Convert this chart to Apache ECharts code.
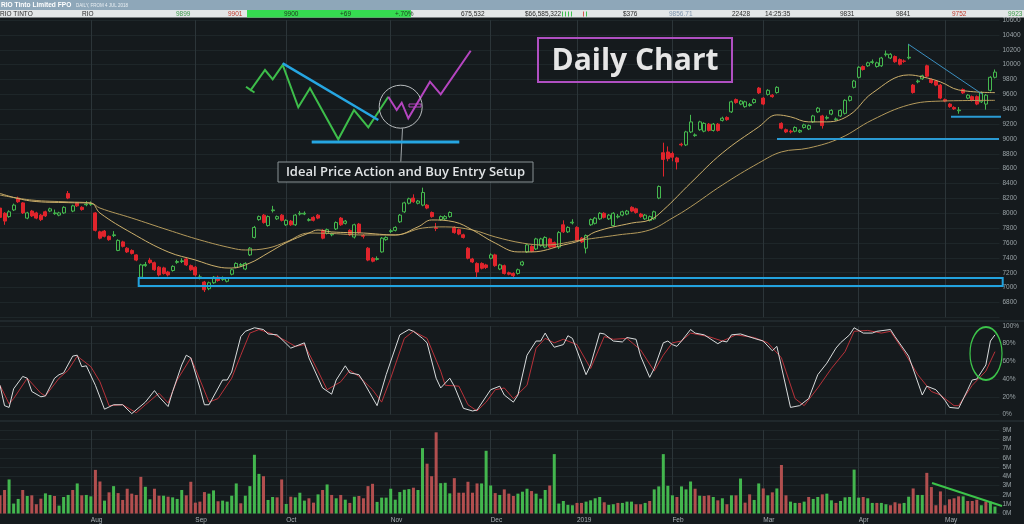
<!DOCTYPE html>
<html><head><meta charset="utf-8">
<script src="https://cdn.jsdelivr.net/npm/echarts/dist/echarts.min.js"></script>
<style>html,body{margin:0;padding:0;background:#151a1d;}#c{width:1024px;height:524px;}</style>
</head><body><div id="c"></div>
<script>
// ---------- DATA ----------
const monthNames = ['Jul','Aug','Sep','Oct','Nov','Dec','2019','Feb','Mar','Apr','May'];
const monthLabels = ['','Aug','Sep','Oct','Nov','Dec','2019','Feb','Mar','Apr','May'];
const monthDays  = [20,23,20,23,22,19,21,20,21,19,12];
const padDays = 1;
const priceTicks = {min:6600, max:10600, step:200};
const stochTicks = {min:0, max:100, step:20};
const volTicks = {min:0, max:9, step:1};

// [open, close, low, high]
const ohlc = [
[8070,7945,7900,8100],[8000,7895,7845,8015],[7955,8020,7940,8040],[8045,8110,8030,8130],[8205,8155,8140,8225],[8140,8005,7990,8150],[7935,8005,7920,8020],[8030,7965,7950,8045],[8005,7935,7920,8020],[7975,7915,7895,7990],
[8020,7965,7950,8035],[8030,8060,8015,8075],[7995,8005,7980,8050],[7975,8005,7960,8020],[8005,8080,7990,8095],[8265,8205,8190,8300],[8030,8100,8015,8115],[8135,8100,8085,8150],[8080,8050,8035,8095],[8115,8125,8095,8165],
[8120,8130,8100,8160],[8005,7770,7755,8015],[7750,7665,7650,7765],[7760,7690,7675,7775],[7690,7645,7630,7700],[7700,7710,7680,7760],[7500,7635,7490,7650],[7615,7555,7540,7630],[7530,7480,7465,7545],[7500,7460,7445,7515],
[7440,7370,7355,7450],[7140,7305,7125,7320],[7295,7310,7280,7345],[7370,7335,7320,7400],[7335,7240,7225,7350],[7275,7170,7150,7290],[7265,7190,7175,7280],[7210,7170,7150,7225],[7230,7285,7215,7300],[7340,7350,7320,7375],
[7350,7360,7330,7395],[7385,7305,7290,7400],[7295,7240,7225,7310],[7275,7170,7150,7290],[7135,7145,7110,7175],[7075,6970,6940,7090],[6985,7065,6965,7080],[7065,7140,7050,7155],[7140,7095,7080,7160],[7110,7120,7090,7150],
[7085,7130,7070,7140],[7180,7240,7165,7255],[7275,7325,7260,7340],[7300,7310,7280,7330],[7250,7325,7235,7340],[7440,7530,7425,7545],[7675,7810,7660,7830],[7915,7955,7900,7970],[7975,7875,7860,7990],[7835,7955,7820,7970],
[8035,8045,8010,8100],[7925,7955,7910,7970],[7975,7905,7890,7990],[7845,7905,7830,7920],[7895,7845,7830,7910],[7845,7975,7830,7990],[7990,8000,7970,8030],[7990,8000,7975,8025],[7905,7915,7890,7935],[7945,7905,7890,7960],
[7975,7935,7920,7990],[7770,7665,7650,7785],[7730,7780,7715,7795],[7710,7720,7690,7740],[7790,7875,7775,7890],[7935,7845,7830,7950],[7865,7895,7850,7910],[7770,7710,7695,7785],[7680,7845,7660,7860],[7855,7740,7725,7870],
[7700,7690,7660,7720],[7530,7370,7355,7545],[7395,7355,7340,7410],[7380,7390,7365,7420],[7480,7665,7470,7680],[7645,7675,7630,7690],[7755,7765,7735,7790],[7770,7810,7755,7825],[7885,7975,7870,7990],[8020,8140,8005,8155],
[8135,8195,8120,8210],[8205,8155,8140,8255],[8135,8165,8120,8180],[8110,8280,8095,8345],[8110,8070,8055,8125],[8010,7955,7940,8025],[7805,7795,7760,7870],[7915,7955,7900,7970],[7925,7955,7910,7975],[7955,8010,7940,8025],
[7810,7740,7725,7825],[7780,7720,7705,7795],[7710,7675,7660,7725],[7530,7395,7380,7545],[7385,7345,7330,7400],[7325,7210,7140,7340],[7325,7260,7245,7340],[7305,7270,7250,7320],[7395,7440,7380,7460],[7440,7295,7280,7455],
[7250,7305,7235,7320],[7295,7190,7175,7310],[7200,7180,7165,7215],[7190,7160,7140,7205],[7190,7240,7175,7255],[7305,7345,7290,7360],[7480,7575,7465,7590],[7555,7490,7475,7570],[7520,7655,7505,7670],[7565,7655,7550,7670],
[7545,7675,7530,7690],[7655,7545,7530,7670],[7605,7545,7530,7620],[7545,7740,7520,7760],[7845,7750,7735,7905],[7750,7810,7735,7825],[7870,7880,7850,7920],[7810,7635,7620,7825],[7665,7615,7600,7680],[7530,7700,7460,7715],
[7845,7915,7830,7930],[7865,7935,7850,7950],[7925,8000,7910,8015],[8000,7945,7930,8015],[7925,7975,7910,7990],[7835,8000,7820,8015],[7950,7960,7930,7990],[7975,8020,7960,8035],[7990,8030,7975,8045],[8080,8030,8015,8095],
[8060,8010,7995,8075],[7990,7955,7940,8005],[7925,7975,7910,7990],[7905,7955,7890,7970],[7925,8020,7910,8035],[8205,8360,8190,8375],[8815,8725,8495,8950],[8825,8735,8700,8900],[8805,8755,8700,8830],[8745,8690,8590,8760],
[8930,8920,8900,8950],[8920,9095,8905,9110],[9095,9230,9080,9325],[9045,9055,9030,9075],[9125,9230,9110,9245],[9105,9210,9090,9225],[9200,9115,9100,9215],[9115,9200,9100,9215],[9200,9115,9100,9215],[9250,9280,9235,9300],
[9290,9260,9245,9305],[9365,9500,9350,9515],[9530,9490,9475,9545],[9470,9510,9455,9525],[9435,9500,9420,9515],[9450,9465,9435,9485],[9490,9530,9475,9545],[9685,9620,9605,9700],[9550,9470,9455,9565],[9600,9655,9585,9670],
[9590,9570,9555,9605],[9625,9695,9610,9710],[9210,9145,9130,9225],[9125,9095,9080,9140],[9105,9095,9075,9125],[9105,9155,9090,9170],[9095,9115,9080,9130],[9155,9190,9140,9205],[9135,9180,9120,9195],[9230,9310,9215,9325],
[9365,9415,9350,9430],[9310,9180,9140,9325],[9280,9290,9260,9315],[9335,9385,9320,9400],[9260,9270,9245,9290],[9310,9385,9295,9400],[9345,9520,9330,9535],[9520,9570,9505,9585],[9695,9780,9680,9795],[9830,9965,9815,9980],
[9975,9935,9920,9990],[9985,10025,9970,10040],[10030,10040,10010,10070],[9975,10025,9960,10040],[9985,10090,9970,10105],[10135,10145,10110,10190],[10090,10140,10075,10155],[10110,10040,10025,10125],[10070,10005,9990,10085],[10050,10045,10025,10070],
[10090,10100,10070,10275],[9725,9625,9610,9740],[9770,9780,9750,9800],[9810,9850,9795,9865],[9985,9845,9830,10000],[9800,9760,9745,9815],[9780,9725,9710,9795],[9725,9550,9535,9740],[9530,9510,9495,9545],[9470,9435,9420,9485],
[9425,9405,9390,9440],[9380,9390,9340,9430],[9665,9620,9605,9680],[9550,9590,9535,9605],[9570,9520,9505,9585],[9570,9470,9455,9585],[9500,9625,9485,9640],[9470,9590,9395,9605],[9655,9830,9640,9845],[9830,9900,9815,9935]
];

// volume in millions
const volume = [
1.96,2.53,3.67,1.07,1.57,2.53,1.89,1.96,1.0,1.6,
2.17,2.0,1.89,0.85,1.78,2.0,2.53,3.24,1.96,2.0,
1.85,4.7,3.45,1.39,2.28,2.95,2.2,1.46,2.67,2.14,
2.0,3.95,2.88,1.53,2.67,1.92,1.92,1.81,1.74,1.57,
2.53,1.96,3.42,1.17,1.28,2.31,2.14,2.49,1.32,1.39,
1.28,1.92,3.24,1.1,1.92,2.95,6.33,4.27,4.02,1.46,
1.78,1.74,3.67,1.03,1.81,1.74,2.24,1.39,1.64,1.17,
2.06,2.53,3.13,2.0,1.64,2.0,1.49,1.14,1.81,1.89,
1.64,2.95,3.2,1.25,1.71,1.71,2.67,1.49,2.31,2.56,
2.63,2.78,2.53,7.05,5.37,4.02,8.75,3.27,3.31,2.17,
3.81,2.24,2.24,3.42,2.24,3.24,3.24,6.76,3.02,2.2,
2.0,2.6,2.14,1.89,2.14,2.35,2.67,2.42,2.14,1.6,
2.53,3.02,6.4,1.07,1.35,0.93,0.89,1.14,1.14,1.28,
1.42,1.64,1.78,1.21,0.93,1.0,1.14,1.14,1.28,1.28,
1.0,1.0,1.14,1.35,2.6,2.92,6.4,2.99,1.96,1.78,
2.92,2.6,3.45,2.67,1.92,1.89,1.96,1.78,1.42,1.64,
1.0,1.96,1.96,3.77,1.17,2.06,1.46,3.24,2.7,1.96,
2.28,2.7,5.23,1.96,1.28,1.14,1.14,1.28,1.78,1.57,
1.78,2.06,2.14,1.42,1.14,1.35,1.74,1.78,4.73,1.71,
1.78,1.64,1.14,1.14,1.14,1.0,0.89,1.21,1.07,1.14,
1.81,2.7,2.0,2.0,4.38,2.85,0.89,2.38,0.89,1.53,
1.64,1.85,1.85,1.35,1.35,1.49,0.89,1.28,1.28,0.75
];

// moving averages: [dayIndex, value]
const maFast = [[0,8267],[7,8164],[15,8143],[20,8138],[22,8003],[29,7734],[37,7480],[43,7371],[48,7278],[51,7263],[55,7330],[59,7465],[63,7604],[68,7734],[70,7775],[73,7749],[80,7734],[87,7708],[92,7817],[95,7910],[100,7884],[104,7775],[109,7599],[114,7480],[117,7480],[124,7573],[128,7641],[131,7749],[139,7868],[143,7910],[146,8044],[152,8406],[159,8811],[167,9163],[171,9324],[174,9298],[178,9230],[182,9230],[187,9324],[192,9618],[200,9862],[203,9836],[207,9768],[211,9660],[219,9624]];
const maSlow = [[0,8245],[7,8178],[15,8153],[20,8138],[22,8070],[29,7936],[37,7775],[44,7641],[51,7532],[54,7506],[59,7532],[63,7615],[68,7734],[73,7728],[80,7708],[87,7708],[93,7801],[98,7817],[104,7775],[109,7682],[115,7599],[120,7573],[128,7641],[136,7708],[143,7775],[148,7936],[152,8086],[159,8381],[167,8676],[172,8826],[178,8878],[185,9013],[192,9256],[200,9458],[207,9510],[219,9520]];

// stochastic %K (white) and %D (red): [dayIndex, percent]
const stochK = [[0,33],[1,10],[2,8],[3,29],[5,43],[6,41],[7,26],[9,20],[10,21],[12,41],[13,45],[14,47],[16,66],[17,67],[18,54],[19,55],[21,33],[23,6],[25,11],[27,11],[29,1],[32,14],[34,27],[35,20],[37,9],[38,26],[40,56],[41,67],[42,64],[44,30],[45,11],[46,11],[49,39],[50,39],[51,48],[53,88],[54,94],[56,98],[58,96],[59,91],[61,90],[64,75],[65,77],[67,81],[68,64],[71,30],[73,23],[74,39],[76,55],[77,47],[79,45],[80,37],[83,10],[85,45],[88,90],[90,96],[91,94],[93,86],[94,81],[96,41],[97,30],[99,41],[100,32],[102,7],[104,4],[105,5],[108,28],[110,32],[111,22],[113,14],[114,22],[116,67],[118,83],[119,83],[120,92],[121,83],[122,76],[124,79],[125,89],[126,86],[129,45],[130,56],[132,92],[133,91],[135,83],[137,82],[138,87],[140,85],[141,66],[143,42],[144,52],[146,81],[147,83],[148,79],[149,77],[150,83],[152,96],[153,92],[155,90],[158,80],[159,83],[160,82],[161,90],[163,91],[166,86],[168,83],[170,72],[171,77],[174,8],[176,10],[178,18],[180,45],[182,58],[184,75],[185,81],[187,90],[188,98],[190,92],[192,92],[193,94],[196,96],[197,88],[200,66],[203,22],[204,32],[206,28],[208,16],[209,8],[211,7],[213,28],[214,39],[215,40],[217,56],[218,83],[219,90]];
const stochD = [[0,33],[2,12],[3,18],[6,41],[9,24],[10,21],[13,41],[15,50],[17,66],[20,54],[22,37],[24,10],[27,11],[30,2],[32,11],[35,24],[37,13],[39,39],[42,64],[43,52],[46,14],[48,18],[51,41],[53,67],[55,92],[57,96],[60,91],[63,83],[65,77],[67,79],[70,49],[72,28],[75,37],[77,50],[79,43],[82,28],[84,14],[86,41],[89,86],[91,94],[94,86],[97,49],[98,33],[101,32],[103,11],[105,4],[107,14],[109,28],[111,30],[113,18],[116,33],[118,75],[120,86],[122,81],[124,85],[127,79],[130,52],[133,88],[135,85],[138,86],[141,73],[144,49],[146,67],[148,81],[150,83],[152,92],[156,88],[159,83],[162,90],[166,87],[169,81],[172,64],[175,18],[177,10],[180,30],[183,52],[186,71],[188,94],[191,95],[194,92],[196,94],[199,71],[202,45],[205,26],[207,22],[210,10],[211,10],[214,33],[217,49],[219,71]];

// header quote row
const headerTitle = 'RIO Tinto Limited FPO';
const headerSub = 'DAILY, FROM 4 JUL 2018';
const quoteCells = [
  ['RIO TINTO',0,'#2a2a2a'],['RIO',82,'#2a2a2a'],['9899',176,'#3c9a4a'],['9901',228,'#c0392b'],
  ['9900',284,'#1d3a1d'],['+69',340,'#1d3a1d'],['+.70%',395,'#1d3a1d'],['675,532',461,'#2a2a2a'],
  ['$66,585,322',525,'#2a2a2a'],['$376',623,'#2a2a2a'],['9856.71',669,'#7d93ab'],['22428',732,'#2a2a2a'],
  ['14:25:35',765,'#2a2a2a'],['9831',840,'#2a2a2a'],['9841',896,'#2a2a2a'],['9752',952,'#c0392b'],['9923',1008,'#3c9a4a']
];

// ---------- BUILD ----------
const cats = [], labelMap = {}, monthStart = new Set();
monthNames.forEach((m, i) => {
  for (let d = 1; d <= monthDays[i]; d++) {
    const key = m + '-' + d;
    if (d === 1) { monthStart.add(cats.length); labelMap[key] = monthLabels[i]; }
    cats.push(key);
  }
});
for (let p = 0; p < padDays; p++) cats.push('pad-' + p);

const UP = '#45b94f', DOWN = '#e0242c', BG = '#151a1d';
const FONT = 'Liberation Sans, Arial, sans-serif';
const LBL = {color:'#9aa3a7', fontSize:6.5, fontFamily:FONT};

const gridL = 0, gridR = 24.5;
function xAxisFor(i, showLabel) {
  return {
    type:'category', gridIndex:i, data:cats, boundaryGap:false,
    axisLine:{show:false}, axisTick:{show:false},
    axisLabel:{show:showLabel, interval:(idx)=>monthStart.has(idx) && idx > 0,
      formatter:(v)=>labelMap[v]||'', align:'left', margin:3, color:'#a9b0b4', fontSize:6.5, fontFamily:FONT},
    splitLine:{show:true, interval:(idx)=>monthStart.has(idx) && idx > 0, lineStyle:{color:'#2c3539', width:1}}
  };
}
function yAxisFor(i, t, suffix, showMin) {
  return {
    type:'value', gridIndex:i, position:'right', min:t.min, max:t.max, interval:t.step,
    axisLine:{show:false}, axisTick:{show:false},
    axisLabel:Object.assign({margin:3, formatter:(v)=>String(v) + suffix, showMinLabel:showMin}, LBL),
    splitLine:{lineStyle:{color:'#1e2629', width:1}}
  };
}

const G = (o) => Object.assign({z:100, silent:true}, o);
const graphics = [
  // header
  G({type:'rect', shape:{x:0,y:0,width:1024,height:10}, style:{fill:'#8ea7b9'}}),
  G({type:'text', x:1, y:5, scaleX:0.88, style:{text:headerTitle, fill:'#ffffff', font:'bold 7.5px ' + FONT, textVerticalAlign:'middle'}}),
  G({type:'text', x:76, y:5.3, style:{text:headerSub, fill:'#e9eff3', font:'4.5px ' + FONT, textVerticalAlign:'middle'}}),
  G({type:'rect', shape:{x:0,y:10,width:1024,height:7.5}, style:{fill:'#e3e6e7'}}),
  G({type:'rect', shape:{x:247,y:10,width:164,height:7.5}, style:{fill:'#35dc50'}}),
  ...[562,565,568,571,583,586].map((x,i)=>G({type:'rect', shape:{x:x,y:11.5,width:1,height:5}, style:{fill: i===4 ? '#d9534f' : '#3fbf4f'}})),
  ...quoteCells.map(c => G({type:'text', x:c[1], y:14, style:{text:c[0], fill:c[2], font:'6.5px ' + FONT, textVerticalAlign:'middle'}})),
  // pane separators
  G({type:'line', shape:{x1:0,y1:321,x2:1024,y2:321}, style:{stroke:'#2d373c', lineWidth:1}, z:1}),
  G({type:'line', shape:{x1:0,y1:421,x2:1024,y2:421}, style:{stroke:'#2d373c', lineWidth:1}, z:1}),
  // Daily Chart box
  G({type:'rect', shape:{x:538,y:38,width:194,height:44}, style:{fill:'none', stroke:'#b04fc2', lineWidth:2}}),
  G({type:'text', x:635, y:61, style:{text:'Daily Chart', fill:'#e6e6e6', font:'bold 30px "Open Sans", sans-serif', textAlign:'center', textVerticalAlign:'middle'}}),
  // ideal price action sketch
  G({type:'polyline', shape:{points:[[246,86.7],[250.7,90],[265,70],[272.7,79.3],[282.7,65],[298.3,107.3],[310,88.3],[338.3,139.3],[354,110],[368.3,127.3],[388.3,96.7]]}, style:{stroke:'#3dbd4a', lineWidth:2, fill:'none'}}),
  G({type:'line', shape:{x1:250.7,y1:90,x2:254.5,y2:92.5}, style:{stroke:'#3dbd4a', lineWidth:2}}),
  G({type:'line', shape:{x1:282.7,y1:63.3,x2:378.3,y2:120}, style:{stroke:'#26a6e2', lineWidth:2.5}}),
  G({type:'polyline', shape:{points:[[388.3,96.7],[396.7,110],[401.7,102.7],[408.3,118.3],[430,81.7],[440.7,94.3],[470.7,50.7]]}, style:{stroke:'#b545c0', lineWidth:2, fill:'none'}}),
  G({type:'rect', shape:{x:409,y:104,width:12,height:3}, style:{fill:'none', stroke:'#b545c0', lineWidth:1}}),
  G({type:'circle', shape:{cx:400.7,cy:106.7,r:21.5}, style:{fill:'none', stroke:'#b9bdbf', lineWidth:1}}),
  G({type:'line', shape:{x1:402.5,y1:128.3,x2:400.8,y2:161.7}, style:{stroke:'#a0a6a9', lineWidth:1}}),
  G({type:'line', shape:{x1:311.7,y1:142,x2:459.3,y2:142}, style:{stroke:'#26a6e2', lineWidth:3}}),
  G({type:'rect', shape:{x:278,y:162,width:255,height:20}, style:{fill:BG, stroke:'#8a9296', lineWidth:1}}),
  G({type:'text', x:405.5, y:172.5, style:{text:'Ideal Price Action and Buy Entry Setup', fill:'#e0e3e5', font:'600 13px "Open Sans", sans-serif', textAlign:'center', textVerticalAlign:'middle'}}),
  // support / resistance drawings on price pane
  G({type:'rect', shape:{x:138.7,y:278,width:864,height:8}, style:{fill:'none', stroke:'#22a2de', lineWidth:2}}),
  G({type:'line', shape:{x1:777,y1:139,x2:999,y2:139}, style:{stroke:'#2a9ad3', lineWidth:2}}),
  G({type:'line', shape:{x1:951,y1:116.7,x2:1001,y2:116.7}, style:{stroke:'#2a9ad3', lineWidth:2}}),
  G({type:'line', shape:{x1:908,y1:44,x2:982,y2:94}, style:{stroke:'#3b8fc0', lineWidth:1}}),
  // stochastic highlight and volume trend line
  G({type:'circle', shape:{cx:0,cy:0,r:26.5}, x:986, y:353.5, scaleX:16/26.5, scaleY:1, style:{fill:'none', stroke:'#3cc34a', lineWidth:2, strokeNoScale:true}}),
  G({type:'line', shape:{x1:932,y1:483,x2:1002,y2:506}, style:{stroke:'#3cc34a', lineWidth:2}})
];

const chart = echarts.init(document.getElementById('c'), null, {renderer:'canvas'});
chart.setOption({
  backgroundColor: BG,
  animation: false,
  grid: [
    {left:gridL, right:gridR, top:20.1, height:297.2},
    {left:gridL, right:gridR, top:326, height:88.5},
    {left:gridL, right:gridR, top:430, height:83.5}
  ],
  xAxis: [xAxisFor(0,false), xAxisFor(1,false), xAxisFor(2,true)],
  yAxis: [
    yAxisFor(0, priceTicks, '', false),
    yAxisFor(1, stochTicks, '%', true),
    yAxisFor(2, volTicks, 'M', true)
  ],
  series: [
    {type:'candlestick', xAxisIndex:0, yAxisIndex:0, data:ohlc, barWidth:3.5, silent:true,
      itemStyle:{color:BG, color0:DOWN, borderColor:UP, borderColor0:DOWN, borderWidth:1}},
    {type:'line', xAxisIndex:0, yAxisIndex:0, data:maSlow, smooth:0.4, showSymbol:false, silent:true,
      lineStyle:{color:'#b49a5c', width:1}},
    {type:'line', xAxisIndex:0, yAxisIndex:0, data:maFast, smooth:0.4, showSymbol:false, silent:true,
      lineStyle:{color:'#cdb06c', width:1}},
    {type:'line', xAxisIndex:1, yAxisIndex:1, data:stochD, showSymbol:false, silent:true,
      lineStyle:{color:'#b8323a', width:1}},
    {type:'line', xAxisIndex:1, yAxisIndex:1, data:stochK, showSymbol:false, silent:true,
      lineStyle:{color:'#d9dcdd', width:1}},
    {type:'bar', xAxisIndex:2, yAxisIndex:2, data:volume, barWidth:3, silent:true,
      itemStyle:{color:(p)=>{
        const i = p.dataIndex;
        const up = i === 0 ? ohlc[0][1] >= ohlc[0][0] : ohlc[i][1] >= ohlc[i-1][1];
        return up ? '#43b64e' : '#b24f4f';
      }}}
  ],
  graphic: graphics
});
</script></body></html>
